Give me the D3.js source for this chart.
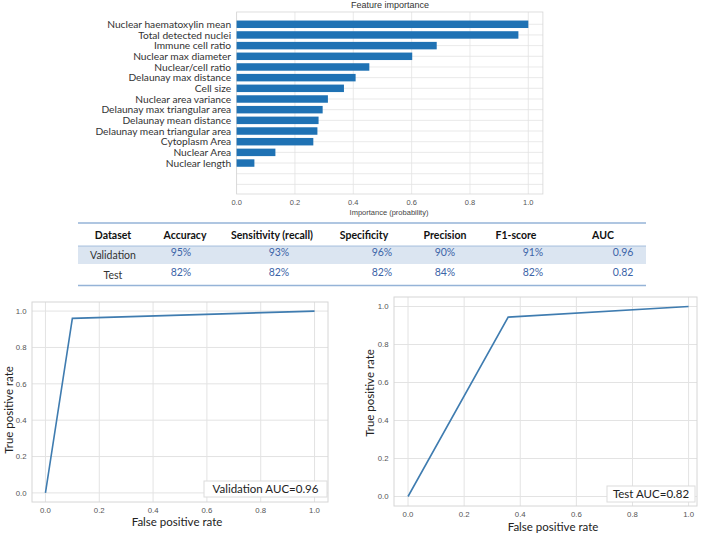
<!DOCTYPE html>
<html><head><meta charset="utf-8">
<script src="https://cdn.jsdelivr.net/npm/d3@7/dist/d3.min.js"></script>
<style>body{margin:0;background:#fff}svg{display:block}</style>
</head><body>
<svg id="c" width="709" height="537"></svg>
<script>
// ---------- data ----------
const features = ["Nuclear haematoxylin mean","Total detected nuclei","Immune cell ratio","Nuclear max diameter","Nuclear/cell ratio","Delaunay max distance","Cell size","Nuclear area variance","Delaunay max triangular area","Delaunay mean distance","Delaunay mean triangular area","Cytoplasm Area","Nuclear Area","Nuclear length"];
const importance = [1.0,0.966,0.686,0.602,0.455,0.408,0.368,0.313,0.295,0.281,0.277,0.263,0.133,0.061];
const featureSlots = 16;
const barTicks = [0,0.2,0.4,0.6,0.8,1.0];

const tableHeader = ["Dataset","Accuracy","Sensitivity (recall)","Specificity","Precision","F1-score","AUC"];
const tableRows = [
  ["Validation","95%","93%","96%","90%","91%","0.96"],
  ["Test","82%","82%","82%","84%","82%","0.82"]
];

const rocTicks = [0,0.2,0.4,0.6,0.8,1.0];
const valFPR = [0,0.1,1.0];
const valTPR = [0,0.96,1.0];
const testFPR = [0,0.357,1.0];
const testTPR = [0,0.944,1.0];
const valLegend = "Validation AUC=0.96";
const testLegend = "Test AUC=0.82";

// ---------- styles ----------
const svg = d3.select("#c");
svg.append("rect").attr("width",709).attr("height",537).attr("fill","#fff");
const gridC = "#e3e3e3", frameC = "#d6d6d6", tickC = "#555", smallFont = "Liberation Sans, Arial, sans-serif";
const calFont = "Lato, 'Open Sans', sans-serif";

// ---------- bar chart ----------
{
  const x = d3.scaleLinear().domain([0,1.05]).range([236.6,542.9]);
  const y = d3.scaleLinear().domain([-1.15,15.9]).range([12,194]);
  const g = svg.append("g");
  const slots = d3.range(featureSlots);
  g.selectAll(".hg").data(slots).join("line")
    .attr("x1",x.range()[0]).attr("x2",x.range()[1])
    .attr("y1",d=>y(d)).attr("y2",d=>y(d)).attr("stroke",gridC).attr("stroke-width",0.8);
  g.selectAll(".vg").data(barTicks).join("line")
    .attr("x1",d=>x(d)).attr("x2",d=>x(d)).attr("y1",y.range()[0]).attr("y2",y.range()[1])
    .attr("stroke",gridC).attr("stroke-width",0.8);
  g.append("rect").attr("x",x.range()[0]).attr("y",y.range()[0])
    .attr("width",x.range()[1]-x.range()[0]).attr("height",y.range()[1]-y.range()[0])
    .attr("fill","none").attr("stroke",frameC).attr("stroke-width",0.8);
  const bh = (y(1)-y(0))*0.7;
  g.selectAll(".bar").data(importance).join("rect")
    .attr("x",x(0)).attr("y",(d,i)=>y(i)-bh/2).attr("width",d=>x(d)-x(0)).attr("height",bh)
    .attr("fill","#1f72b4");
  g.selectAll(".yl").data(features).join("text")
    .attr("x",x(0)-5.5).attr("y",(d,i)=>y(i)).attr("dy","0.35em").attr("text-anchor","end")
    .attr("font-family",calFont).attr("font-size",10.2).attr("fill","#333").text(d=>d);
  g.selectAll(".xl").data(barTicks).join("text")
    .attr("x",d=>x(d)).attr("y",205).attr("text-anchor","middle")
    .attr("font-family",smallFont).attr("font-size",7.5).attr("fill",tickC).text(d=>d.toFixed(1));
  g.append("text").attr("x",389).attr("y",215).attr("text-anchor","middle")
    .attr("font-family",smallFont).attr("font-size",7.5).attr("fill","#444").text("Importance (probability)");
  g.append("text").attr("x",390).attr("y",8).attr("text-anchor","middle")
    .attr("font-family",smallFont).attr("font-size",9).attr("fill","#333").text("Feature importance");
}

// ---------- table ----------
{
  const g = svg.append("g");
  const colX = [113,185,272,364,445,516,603];
  const valX = [113,181,279,382,445,533,623];
  const x0 = 78, x1 = 646;
  const lineC = "#95b3d7";
  g.append("rect").attr("x",x0).attr("y",246).attr("width",x1-x0).attr("height",18).attr("fill","#dbe5f1");
  [223,246,285.5].forEach((yy,i)=>{
    g.append("line").attr("x1",x0).attr("x2",x1).attr("y1",yy).attr("y2",yy)
      .attr("stroke",lineC).attr("stroke-width",i===1?0.8:1.5);
  });
  g.selectAll(".th").data(tableHeader).join("text")
    .attr("x",(d,i)=>colX[i]).attr("y",238.5).attr("text-anchor","middle")
    .attr("font-family",calFont).attr("font-weight","bold").attr("font-size",10.5).attr("fill","#111").text(d=>d);
  tableRows.forEach((row,r)=>{
    g.selectAll(".r"+r).data(row).join("text")
      .attr("x",(d,i)=>valX[i]).attr("y",(d,i)=> i===0 ? (r===0?258.5:279) : (r===0?255.5:275.5))
      .attr("text-anchor","middle").attr("font-family",calFont).attr("font-size",10.5)
      .attr("fill",(d,i)=>i===0?"#333":"#3b64a8").text(d=>d);
  });
}

// ---------- ROC ----------
function roc(cfg){
  const x = d3.scaleLinear().domain(cfg.xd).range(cfg.xr);
  const y = d3.scaleLinear().domain([-0.05,1.05]).range(cfg.yr);
  const g = svg.append("g");
  g.selectAll(".vg").data(rocTicks).join("line")
    .attr("x1",d=>x(d)).attr("x2",d=>x(d)).attr("y1",cfg.yr[0]).attr("y2",cfg.yr[1]).attr("stroke",gridC);
  g.selectAll(".hg").data(rocTicks).join("line")
    .attr("y1",d=>y(d)).attr("y2",d=>y(d)).attr("x1",cfg.xr[0]).attr("x2",cfg.xr[1]).attr("stroke",gridC);
  g.append("rect").attr("x",cfg.xr[0]).attr("y",cfg.yr[1]).attr("width",cfg.xr[1]-cfg.xr[0])
    .attr("height",cfg.yr[0]-cfg.yr[1]).attr("fill","none").attr("stroke",frameC);
  const pts = cfg.fpr.map((f,i)=>[f,cfg.tpr[i]]);
  g.append("path").datum(pts).attr("d",d3.line().x(d=>x(d[0])).y(d=>y(d[1])))
    .attr("fill","none").attr("stroke","#3f7cb0").attr("stroke-width",1.6);
  g.selectAll(".xl").data(rocTicks).join("text")
    .attr("x",d=>x(d)).attr("y",cfg.yr[0]+11).attr("text-anchor","middle")
    .attr("font-family",smallFont).attr("font-size",7.8).attr("fill",tickC).text(d=>d.toFixed(1));
  g.selectAll(".yl").data(rocTicks).join("text")
    .attr("x",cfg.xr[0]-5.5).attr("y",d=>y(d)).attr("dy","0.35em").attr("text-anchor","end")
    .attr("font-family",smallFont).attr("font-size",7.8).attr("fill",tickC).text(d=>d.toFixed(1));
  g.append("text").attr("x",cfg.xt[0]).attr("y",cfg.xt[1]).attr("text-anchor","middle")
    .attr("font-family",calFont).attr("font-size",11.5).attr("fill","#222").text("False positive rate");
  g.append("text").attr("transform",`translate(${cfg.yt[0]},${cfg.yt[1]}) rotate(-90)`).attr("text-anchor","middle")
    .attr("font-family",calFont).attr("font-size",11.5).attr("fill","#222").text("True positive rate");
  const lb = cfg.lb;
  g.append("rect").attr("x",lb[0]).attr("y",lb[1]).attr("width",lb[2]-lb[0]).attr("height",lb[3]-lb[1])
    .attr("fill","#fff").attr("stroke","#dcdcdc");
  g.append("text").attr("x",(lb[0]+lb[2])/2).attr("y",lb[3]-4).attr("text-anchor","middle")
    .attr("font-family",calFont).attr("font-size",11.5).attr("fill","#222").text(cfg.label);
}
roc({xd:[-0.05,1.05], xr:[32,328], yr:[502,302], fpr:valFPR, tpr:valTPR,
     xt:[177,526], yt:[13,410], lb:[204,481,327,497], label:valLegend});
roc({xd:[-0.05,1.03], xr:[394,697], yr:[506,297], fpr:testFPR, tpr:testTPR,
     xt:[553,531], yt:[374,393], lb:[607,486,695,502], label:testLegend});
</script>
</body></html>
